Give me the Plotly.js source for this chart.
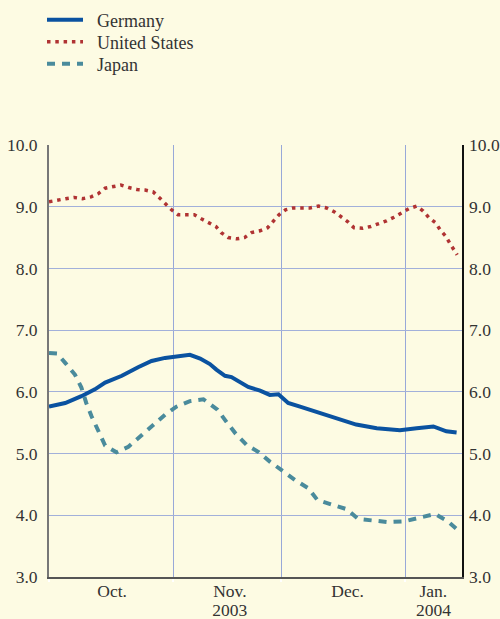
<!DOCTYPE html>
<html>
<head>
<meta charset="utf-8">
<script src="https://cdn.plot.ly/plotly-3.0.1.min.js"></script>
<style>html,body{margin:0;padding:0;background:#fdfbe3;}</style>
</head>
<body>
<div id="chart" style="width:500px;height:619px;"></div>
<script>
// x = business-day index starting Oct 1, 2003 (Nov 1 = 23, Dec 1 = 43, Jan 1 = 66)
const germanyDays = [0, 3, 6, 8.5, 10.4, 13.5, 16.5, 19, 21.5, 24.6, 26.1, 28, 29.8, 31, 32.6, 33.8, 35.4, 36.9, 39.1, 40.9, 42.5, 44.3, 46.5, 48.3, 49.6, 52.6, 54.5, 56.9, 60.7, 65, 68.1, 71.2, 73.6, 75.5];
const germanyVals = [5.76, 5.82, 5.93, 6.04, 6.15, 6.26, 6.40, 6.50, 6.55, 6.59, 6.60, 6.54, 6.45, 6.36, 6.26, 6.24, 6.15, 6.08, 6.02, 5.95, 5.96, 5.82, 5.76, 5.71, 5.67, 5.58, 5.54, 5.47, 5.41, 5.38, 5.41, 5.44, 5.36, 5.34];

const usDays = [0, 1.6, 3.1, 4.7, 6.2, 7.8, 9.1, 10.4, 11.8, 13.3, 14.8, 16.3, 17.8, 19.3, 20.4, 21.5, 22.7, 23.9, 25.4, 26.9, 28.3, 29.7, 30.9, 31.9, 33.2, 34.8, 36.2, 37.5, 39.1, 40.5, 41.5, 42.6, 43.8, 45.2, 46.8, 48.3, 49.9, 51.4, 52.8, 54.1, 55.3, 56.5, 58.1, 59.6, 61.1, 62.5, 63.9, 65.4, 66.7, 68.1, 69.3, 70.4, 71.6, 72.5, 73.5, 74.3, 75.1, 75.6];
const usVals = [9.08, 9.11, 9.13, 9.15, 9.13, 9.16, 9.21, 9.30, 9.33, 9.35, 9.31, 9.28, 9.27, 9.24, 9.15, 9.05, 8.95, 8.87, 8.87, 8.87, 8.80, 8.74, 8.68, 8.58, 8.50, 8.48, 8.50, 8.58, 8.61, 8.66, 8.76, 8.87, 8.95, 8.98, 8.98, 8.98, 9.01, 8.98, 8.92, 8.84, 8.76, 8.66, 8.65, 8.68, 8.72, 8.77, 8.83, 8.90, 8.97, 9.01, 8.93, 8.82, 8.74, 8.62, 8.52, 8.40, 8.28, 8.22];

const japanDays = [0, 1.5, 3, 4.8, 6, 6.9, 7.9, 9.1, 10.4, 12.5, 14.7, 17.2, 19.3, 21.5, 23.6, 26.1, 28.6, 31.2, 32.9, 34.6, 36.6, 38.9, 40.9, 43.1, 45.6, 48, 49.7, 52.5, 55.1, 57.3, 60.1, 62.8, 65.7, 68.7, 71.5, 73.9, 75.6];
const japanVals = [6.63, 6.62, 6.47, 6.28, 6.07, 5.82, 5.60, 5.36, 5.13, 5.02, 5.11, 5.30, 5.46, 5.63, 5.76, 5.85, 5.88, 5.71, 5.51, 5.32, 5.14, 5.02, 4.87, 4.73, 4.57, 4.44, 4.25, 4.17, 4.10, 3.94, 3.91, 3.89, 3.90, 3.96, 4.02, 3.90, 3.77];

const monthBoundaries = [0, 23, 43, 66];
const monthLabelPos = [11.7, 33.5, 55.3, 71.2];
const monthLabels = ['Oct.', 'Nov.', 'Dec.', 'Jan.'];
const yearLabelPos = [33.5, 71.2];
const yearLabels = ['2003', '2004'];
const yTicks = [3, 4, 5, 6, 7, 8, 9, 10];
const seriesNames = ['Germany', 'United States', 'Japan'];

const serif = 'Liberation Serif, Times New Roman, serif';
const textColor = '#333333';
const legendFont = {family: serif, size: 18, color: textColor};

function legendAt(yPx) {
  return {
    xref: 'container', yref: 'container', x: 42 / 500, y: 1 - yPx / 619,
    xanchor: 'left', yanchor: 'middle', bgcolor: 'rgba(0,0,0,0)', borderwidth: 0,
    font: legendFont, itemwidth: 36
  };
}
// small gap between legend swatch and label, as in the original
const pad = '\u2002';

const traces = [
  {x: germanyDays, y: germanyVals, name: pad + seriesNames[0], type: 'scatter', mode: 'lines', legend: 'legend',
   line: {color: '#0a52a0', width: 4}},
  {x: usDays, y: usVals, name: pad + seriesNames[1], type: 'scatter', mode: 'lines', legend: 'legend2',
   line: {color: '#b03333', width: 3.5, dash: '3.5px,4.8px'}},
  {x: japanDays, y: japanVals, name: pad + seriesNames[2], type: 'scatter', mode: 'lines', legend: 'legend3',
   line: {color: '#4a8b9c', width: 4, dash: '8px,7px'}},
  {x: [0], y: [null], xaxis: 'x2', yaxis: 'y2', showlegend: false, hoverinfo: 'skip', type: 'scatter', mode: 'lines'}
];

const layout = {
  width: 500, height: 619,
  paper_bgcolor: '#fdfbe3', plot_bgcolor: '#fdfbe3',
  margin: {l: 49, r: 38, t: 145, b: 42, pad: 0, autoexpand: false},
  font: {family: serif, size: 18, color: textColor},
  showlegend: true,
  legend: legendAt(20),
  legend2: legendAt(42),
  legend3: legendAt(64),
  xaxis: {
    range: [0, 76.5], tickmode: 'array', tickvals: monthLabelPos, ticktext: monthLabels,
    showgrid: false, zeroline: false, showline: true, linecolor: '#555555', linewidth: 2,
    ticks: '', ticklabelstandoff: -3, tickfont: {family: serif, size: 17.5, color: textColor},
    minor: {tickmode: 'array', tickvals: monthBoundaries, showgrid: true, gridcolor: '#98a8d8', gridwidth: 1,
            ticks: 'outside', ticklen: 3, tickcolor: '#ffffff', tickwidth: 2},
    fixedrange: true, automargin: false
  },
  xaxis2: {
    overlaying: 'x', side: 'bottom', anchor: 'y', range: [0, 76.5], tickmode: 'array',
    tickvals: yearLabelPos, ticktext: yearLabels, showgrid: false, zeroline: false, showline: false,
    ticks: '', ticklabelstandoff: 20, tickfont: {family: serif, size: 17.5, color: textColor},
    fixedrange: true, automargin: false
  },
  yaxis: {
    range: [3, 10], tickmode: 'array', tickvals: yTicks, tickformat: '.1f',
    showgrid: true, gridcolor: '#a2b0da', gridwidth: 1, zeroline: false,
    showline: true, linecolor: '#777777', linewidth: 2, ticks: '',
    ticklabelstandoff: 6, automargin: false,
    tickfont: {family: serif, size: 17.5, color: textColor}, fixedrange: true
  },
  yaxis2: {
    overlaying: 'y', side: 'right', anchor: 'x', range: [3, 10], tickmode: 'array', tickvals: yTicks, tickformat: '.1f',
    showgrid: false, zeroline: false, showline: true, linecolor: '#111111', linewidth: 1.5, ticks: '',
    ticklabelstandoff: 2, automargin: false,
    tickfont: {family: serif, size: 17.5, color: textColor}, fixedrange: true
  }
};

Plotly.newPlot('chart', traces, layout, {displayModeBar: false, staticPlot: true});
</script>
</body>
</html>
